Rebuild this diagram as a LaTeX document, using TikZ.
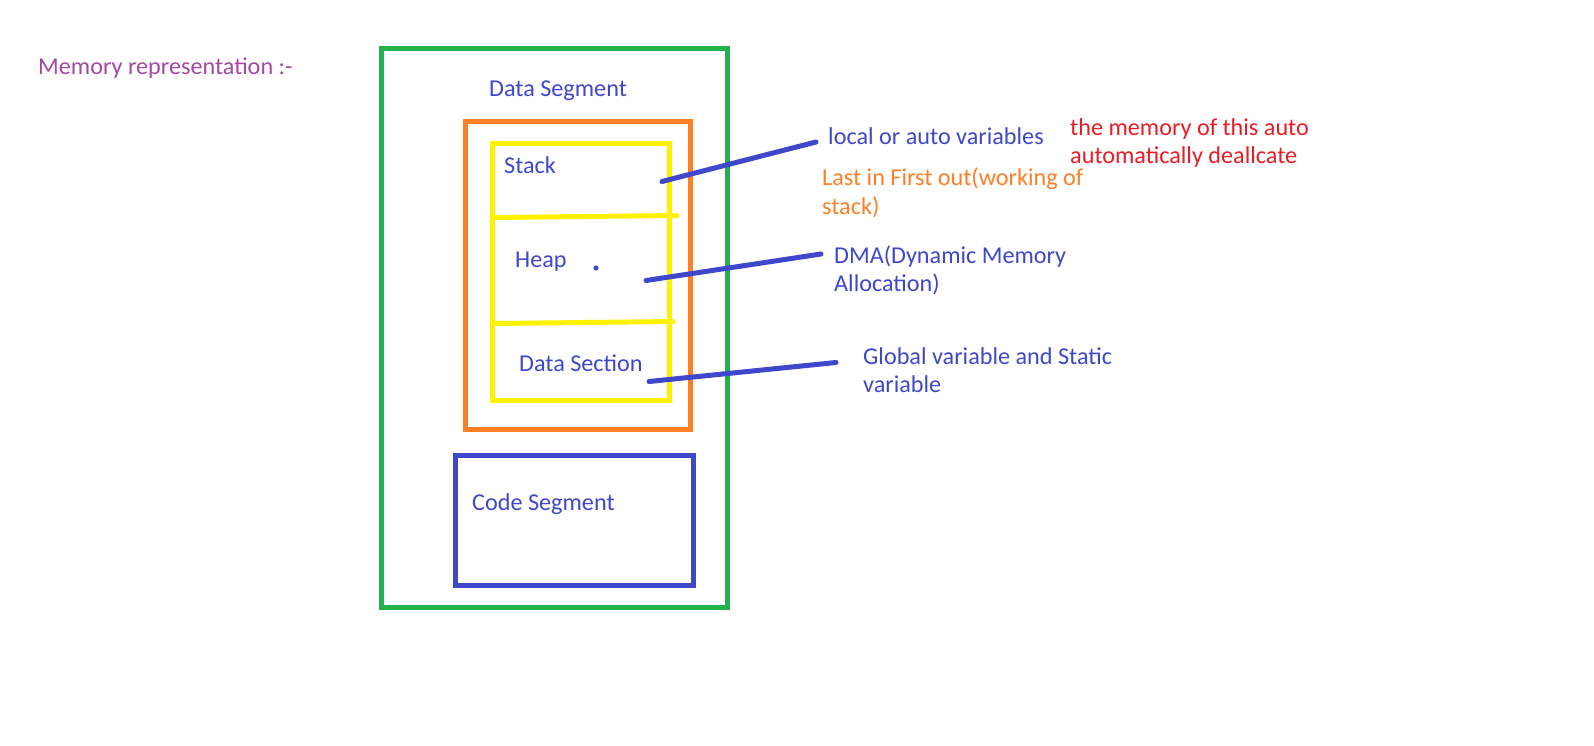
\documentclass[tikz,border=0pt]{standalone}
\usepackage{fontspec}
\setmainfont{Carlito}
\definecolor{pgreen}{HTML}{22B14C}
\definecolor{porange}{HTML}{FF7F27}
\definecolor{pyellow}{HTML}{FFF200}
\definecolor{pblue}{HTML}{3F48CC}
\definecolor{pred}{HTML}{ED1C24}
\definecolor{ppurple}{HTML}{A349A4}
\tikzset{
  box/.style={line width=5pt},
  lbl/.style={anchor=base west, inner sep=0pt, font=\fontsize{24.2}{28.2}\selectfont, align=left},
  pointer/.style={draw=pblue, line width=5pt, line cap=round},
  divider/.style={draw=pyellow, line width=5pt, line cap=round}
}
\begin{document}
\begin{tikzpicture}[x=1pt,y=-1pt]
\path[use as bounding box, fill=white] (0,0) rectangle (1594,746);
% boxes
\draw[box, draw=pgreen] (381,49) rectangle (727,607);
\draw[box, draw=porange] (465,122) rectangle (690,429);
\draw[box, draw=pyellow] (492,144) rectangle (669,400);
\draw[box, draw=pblue] (455,455) rectangle (693,585);
% dividers
\coordinate (d1a) at (492,217.5);
\coordinate (d1b) at (677,215.5);
\coordinate (d2a) at (496,323.5);
\coordinate (d2b) at (673,321.5);
\draw[divider] (d1a) -- (d1b);
\draw[divider] (d2a) -- (d2b);
% labels (multi-line labels: base = last line)
\node[lbl, text=ppurple] (memrep) at (38,75) {Memory representation :-};
\node[lbl, text=pblue] (dataseg) at (489,97) {Data Segment};
\node[lbl, text=pblue] (stack) at (504,174) {Stack};
\node[lbl, text=pblue] (heap) at (515,267) {Heap};
\node[lbl, text=pblue] (datasec) at (519,371.5) {Data Section};
\node[lbl, text=pblue] (codeseg) at (472,510) {Code Segment};
\node[lbl, text=pblue] (local) at (828,145) {local or auto variables};
\node[lbl, text=pred] (redmem) at (1070,163.5) {the memory of this auto\\automatically deallcate};
\node[lbl, text=porange] (lifo) at (822,214) {Last in First out(working of\\stack)};
\node[lbl, text=pblue] (dma) at (834,291.5) {DMA(Dynamic Memory\\Allocation)};
\node[lbl, text=pblue] (global) at (863,392.5) {Global variable and Static\\variable};
% dot in heap
\fill[pblue] (596,268) circle (2.6);
% pointers
\coordinate (p1a) at (662,181.5);
\coordinate (p1b) at (816,142);
\coordinate (p2a) at (646,280.5);
\coordinate (p2b) at (821,254);
\coordinate (p3a) at (649,381.5);
\coordinate (p3b) at (836,362.5);
\draw[pointer] (p1a) -- (p1b);
\draw[pointer] (p2a) -- (p2b);
\draw[pointer] (p3a) -- (p3b);
\end{tikzpicture}
\end{document}
